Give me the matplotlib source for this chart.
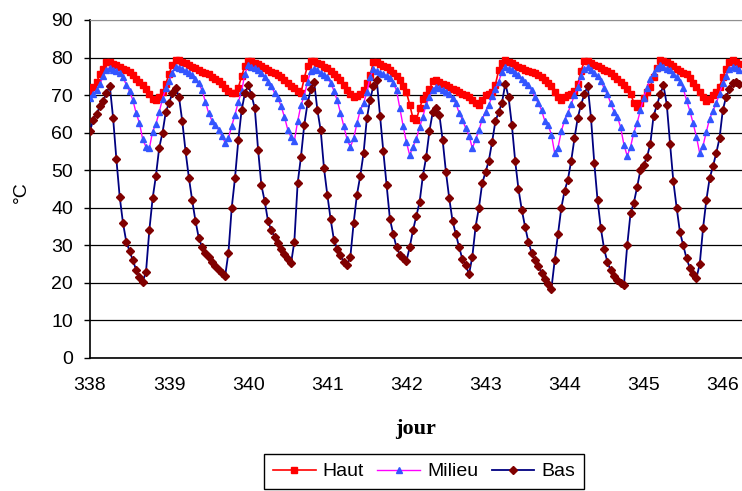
import matplotlib
matplotlib.use("Agg")
import matplotlib.pyplot as plt
import numpy as np

# hourly readings, starting on day 338
haut = [71, 72.2, 73.5, 75.5, 77, 78.8, 78.8, 78.4, 78, 77.5,
        77, 76.6, 76.1, 75.3, 74.4, 73.5, 72.6, 71.7, 70.4, 69,
        68.6, 69.5, 70.8, 73, 75.7, 78, 79.3, 79.3, 78.8, 78.5,
        78.1, 77.6, 77.2, 76.8, 76.2, 75.9, 75.5, 74.9, 74.3, 73.7,
        73, 72, 71.1, 70.5, 70.6, 72, 75, 77.8, 79.2, 79,
        78.6, 78.2, 77.8, 77.3, 76.8, 76.2, 75.8, 75.4, 74.9, 74.1,
        73.3, 72.4, 71.9, 71.1, 70.5, 74.5, 77.8, 79.2, 79, 78.6,
        78.2, 77.6, 77.2, 76.5, 75.6, 74.8, 74, 72.6, 71.4, 70.3,
        69.6, 69.8, 70.2, 71.3, 73.1, 75.3, 78.8, 78.8, 78.2, 77.8,
        77.4, 76.8, 75.9, 75.1, 73.9, 72.4, 70.8, 67.5, 63.8, 63.3,
        66.5, 69, 70.1, 71.5, 73.7, 74, 73.4, 73, 72.6, 72.1,
        71.7, 71.3, 70.8, 70.4, 70, 69.4, 68.7, 67.8, 67.3, 68.8,
        70, 70.4, 70.8, 72.8, 76.6, 78.6, 79.3, 78.8, 78.5, 78,
        77.5, 77.1, 76.7, 76.5, 76.2, 75.8, 75.3, 74.9, 74.1, 73.3,
        72.4, 70.8, 69.5, 68.6, 69.6, 70.1, 70.4, 71, 73, 76.5,
        79, 79, 78.6, 78.1, 77.7, 77.2, 76.8, 76.3, 75.9, 75.2,
        74.4, 73.6, 72.6, 71.7, 70.4, 68, 66.8, 68, 69.3, 70.9,
        72.2, 74.9, 77.3, 79.3, 79.2, 78.8, 78.3, 77.7, 77, 76.5,
        76, 75.6, 74.6, 73.3, 72.2, 70.7, 69.4, 68.4, 69, 70.1,
        70.8, 72.2, 74.8, 77, 78.8, 79.3, 78.8, 78.4]

milieu = [69.2, 70.2, 71.3, 73, 75, 76.8, 77.3, 76.7, 76.3, 75.8,
          74.8, 72.8, 71, 68.7, 65.2, 62.6, 58.2, 56.2, 55.8, 60.3,
          62.3, 65.5, 69, 71.8, 73.8, 76, 77.5, 77.3, 77, 76.4,
          75.8, 75.3, 74.4, 73.1, 71.3, 68.2, 65.2, 63.2, 62, 60.8,
          59.2, 57.3, 58.6, 61.8, 64.8, 68.2, 71, 75.7, 78, 77.6,
          77.1, 76.6, 75.8, 74.9, 73.5, 72.4, 70.6, 69.3, 67, 64.2,
          60.8, 58.8, 57.8, 63, 67.3, 69.8, 73.6, 76.3, 77, 76.6,
          76, 75.3, 74.7, 73.3, 71.2, 68.6, 65.3, 61.8, 58.2, 56.2,
          58.5, 62.5, 66, 67.8, 70.8, 74.8, 77, 76.4, 75.9, 75.5,
          75.2, 74.5, 73.2, 71.3, 66.5, 61.8, 57.5, 54, 56.3, 58.3,
          61.5, 64.3, 67.5, 69.6, 71.4, 72.2, 71.9, 71.4, 70.9, 70.3,
          69.3, 67.8, 65.3, 63.4, 61.2, 59.2, 55.9, 58.2, 60.6, 63.6,
          65.6, 67.4, 69.7, 71.6, 73.6, 76.2, 77.5, 77, 76.6, 76,
          75.3, 74.4, 73.4, 72.6, 71.3, 69.4, 67.9, 66, 63.1, 62,
          59.5, 54.5, 56, 60.4, 63.3, 65.3, 67.6, 70, 72.2, 75,
          77, 77.5, 76.7, 75.8, 75, 73.8, 71.8, 70.2, 67.8, 65.6,
          64.3, 61.4, 56.8, 53.8, 56.2, 60, 62.6, 66, 69.3, 72,
          74.2, 75.8, 77.2, 78, 77.5, 77, 76.6, 75.7, 74.7, 73.6,
          71.8, 68.6, 65.8, 62.5, 58.9, 54.5, 56.5, 60.2, 63.7, 65.8,
          67.8, 70.4, 73.1, 75.2, 77, 77.5, 77.2, 76.8]

bas = [60.5, 63.5, 65, 67, 68.5, 70.5, 72.5, 64, 53, 43,
       36, 31, 28.5, 26, 23.5, 21.5, 20.3, 23, 34, 42.5,
       48.5, 56, 60, 65.5, 68, 70.5, 72, 69.5, 63, 55,
       48, 42, 36.5, 32, 29.5, 28, 27, 25.6, 24.5, 23.5,
       22.6, 21.8, 28, 40, 48, 58, 66, 70.5, 72.6, 70,
       66.5, 55.5, 46, 41.8, 36.5, 34, 32.3, 30.5, 29, 27.7,
       26.3, 25.2, 31, 46.5, 53.5, 62, 67.8, 71.5, 73.5, 66,
       60.6, 50.5, 43.5, 37, 31.5, 29, 27.3, 25.5, 24.7, 27,
       36, 43.5, 48.5, 54.5, 63.8, 68.8, 72.5, 74, 64.5, 55,
       46, 37, 33, 29.5, 27.5, 26.5, 25.8, 29.5, 34, 37.8,
       41.5, 48.5, 53.5, 60.5, 65.5, 66.5, 64.8, 58, 49.5, 42.5,
       36.5, 33, 29.5, 26.3, 24.7, 22.3, 27, 35, 40, 46.5,
       49.5, 52.5, 57.5, 63, 65.5, 68, 73, 69.5, 62, 52.5,
       45, 39.5, 35, 31, 28, 26, 24.5, 22.7, 21, 19.8,
       18.5, 26, 33, 40, 44.5, 47.5, 52.5, 58.5, 64, 67.5,
       70.2, 72.5, 64, 52, 42, 34.5, 29, 25.5, 23.3, 21.8,
       20.8, 20.1, 19.4, 30, 38.5, 41.3, 45.5, 50, 51.5, 53.5,
       57, 64.5, 67.3, 70.2, 72.6, 67.5, 57, 47, 40, 33.5,
       30, 26.5, 24, 22.5, 21.3, 25, 34.5, 42, 47.8, 51,
       54.5, 58.5, 66, 69.5, 71.5, 73.2, 73.5, 73]

jour = 338 + np.arange(len(bas)) / 24.0
x_ticks = [338, 339, 340, 341, 342, 343, 344, 345, 346]
y_ticks = [0, 10, 20, 30, 40, 50, 60, 70, 80, 90]

plt.rcParams['font.family'] = ['Liberation Sans', 'DejaVu Sans']

fig = plt.figure(figsize=(7.42, 4.91), dpi=100)
ax = fig.add_axes([90 / 742, 133 / 491, 652 / 742, 338 / 491])

ax.plot(jour, haut, color='#ff0000', lw=1.2, marker='s', ms=4.5,
        mec='#ff0000', mfc='#ff0000', label='Haut', zorder=3)
ax.plot(jour, milieu, color='#ff00ff', lw=1.0, marker='^', ms=5,
        mec='#3355ff', mfc='#3355ff', label='Milieu', zorder=4)
ax.plot(jour, bas, color='#000080', lw=1.3, marker='D', ms=4.4,
        mec='#800000', mfc='#800000', label='Bas', zorder=5)

ax.set_xlim(338, 338 + 652 / 79.1)
ax.set_ylim(0, 90)
ax.set_xticks(x_ticks)
ax.set_yticks(y_ticks)

# horizontal grid, top line is grey like the plot-area border
ax.grid(axis='y', color='black', lw=0.9, zorder=0)
ax.yaxis.get_gridlines()[-1].set_color('#909090')
ax.set_axisbelow(True)

for s in ['left', 'bottom']:
    ax.spines[s].set_color('black')
    ax.spines[s].set_linewidth(1.2)
ax.spines['top'].set_color('#909090')
ax.spines['right'].set_visible(False)

ax.tick_params(axis='x', length=0, pad=14, labelsize=14)
ax.tick_params(axis='y', direction='out', length=4.3, width=1,
               pad=8, labelsize=14)

ax.set_ylabel('°C', fontsize=14)
ax.yaxis.set_label_coords(-0.092, 0.49)
ax.set_xlabel('jour', fontsize=16, fontweight='bold',
              family=['Liberation Serif', 'DejaVu Serif'])
ax.xaxis.set_label_coords(0.5, -0.18)

leg = fig.legend(loc='upper center', bbox_to_anchor=(424 / 742, 1 - 454 / 491),
                 ncol=3, fontsize=14, frameon=True, fancybox=False,
                 framealpha=1, edgecolor='black', borderpad=0.45,
                 borderaxespad=0, handlelength=2.2, handletextpad=0.35,
                 columnspacing=0.7)
leg.get_frame().set_linewidth(1.0)

fig.savefig('out.png', dpi=100)
